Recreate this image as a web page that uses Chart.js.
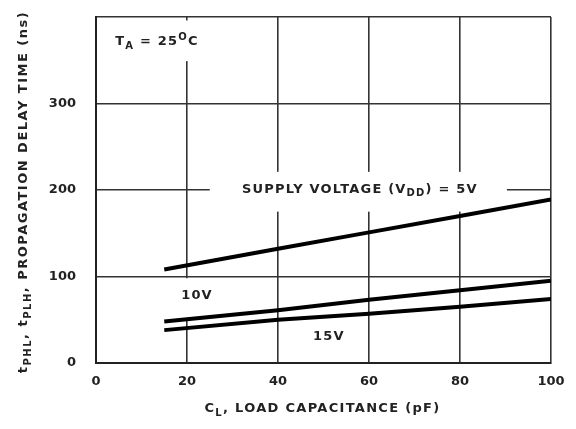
<!DOCTYPE html>
<html>
<head>
<meta charset="utf-8">
<script src="https://cdn.jsdelivr.net/npm/chart.js@4"></script>
<style>
  html, body { margin: 0; padding: 0; background: #fff; }
  #wrap { width: 576px; height: 429px; }
</style>
</head>
<body>
<div id="wrap"><canvas id="delayChart"></canvas></div>
<script>
// load capacitance (pF) and delay (ns)
const capLoad = [15, 40, 60, 80, 100];
const delay5V = [108, 132, 151, 170, 189];
const delay10V = [48, 61, 73, 84, 95];
const delay15V = [38, 50, 57, 65, 74];

const xTicks = [0, 20, 40, 60, 80, 100];
const yTicks = [0, 100, 200, 300];

const FAMILY = '"DejaVu Sans", Verdana, sans-serif';
const FONT = 'bold 13px ' + FAMILY;
const SUBFONT = 'bold 10px ' + FAMILY;

function toPoints(ys) {
    return capLoad.map((c, i) => ({ x: c, y: ys[i] }));
}

// draw text made of pieces, some sub/superscript; centred on x
function richWidth(ctx, parts) {
    let w = 0;
    parts.forEach(p => {
        ctx.font = p.s ? SUBFONT : FONT;
        w += ctx.measureText(p.t).width;
    });
    return w;
}
function drawRich(ctx, parts, cx, cy, spacing) {
    ctx.textBaseline = 'middle';
    ctx.textAlign = 'left';
    ctx.letterSpacing = (spacing || 1.2) + 'px';
    let x = cx - richWidth(ctx, parts) / 2;
    parts.forEach(p => {
        ctx.font = p.s ? SUBFONT : FONT;
        let dy = 0;
        if (p.s === 'sub') dy = 4;
        if (p.s === 'sup') dy = -5;
        ctx.fillText(p.t, x, cy + dy);
        x += ctx.measureText(p.t).width;
    });
    ctx.letterSpacing = '0px';
}

const notes = {
    id: 'notes',
    beforeDatasetsDraw(chart) {
        const ctx = chart.ctx;
        const xs = chart.scales.x, ys = chart.scales.y;
        const px = v => xs.getPixelForValue(v);
        const py = v => ys.getPixelForValue(v);
        ctx.save();
        // white gaps in the grid behind the labels
        ctx.fillStyle = '#fff';
        ctx.fillRect(px(2), py(396), px(25) - px(2), py(349) - py(396));
        ctx.fillRect(px(25), py(221), px(90.3) - px(25), py(175) - py(221));
        ctx.fillRect(px(18), py(98), px(26.5) - px(18), py(52) - py(98));

        ctx.fillStyle = '#222';
        drawRich(ctx, [{ t: 'T' }, { t: 'A', s: 'sub' }, { t: ' = 25' }, { t: 'O', s: 'sup' }, { t: 'C' }],
            px(13.4), py(371));
        drawRich(ctx, [{ t: 'SUPPLY VOLTAGE (V' }, { t: 'DD', s: 'sub' }, { t: ') = 5V' }],
            px(58), py(201));
        drawRich(ctx, [{ t: '10V' }], px(22.2), py(77.5));
        drawRich(ctx, [{ t: '15V' }], px(51.2), py(30));

        // axis titles
        const area = chart.chartArea;
        drawRich(ctx, [{ t: 'C' }, { t: 'L', s: 'sub' }, { t: ', LOAD CAPACITANCE (pF)' }],
            (area.left + area.right) / 2 - 1, 409, 1.3);
        ctx.translate(24, 192);
        ctx.rotate(-Math.PI / 2);
        drawRich(ctx, [{ t: 't' }, { t: 'PHL', s: 'sub' }, { t: ', t' }, { t: 'PLH', s: 'sub' },
            { t: ', PROPAGATION DELAY TIME (ns)' }], 0, 0, 1.5);
        ctx.restore();
    }
};

function lineSet(ys) {
    return {
        data: toPoints(ys),
        borderColor: '#000',
        borderWidth: 4,
        pointRadius: 0,
        tension: 0,
        fill: false
    };
}

const ctx = document.getElementById('delayChart').getContext('2d');
const delayChart = new Chart(ctx, {
    type: 'line',
    data: {
        datasets: [lineSet(delay5V), lineSet(delay10V), lineSet(delay15V)]
    },
    options: {
        responsive: true,
        maintainAspectRatio: false,
        animation: false,
        layout: { padding: { left: 0, right: 25, top: 17, bottom: 0 } },
        plugins: {
            legend: { display: false },
            tooltip: { enabled: false }
        },
        scales: {
            x: {
                type: 'linear',
                min: 0,
                max: 100,
                afterBuildTicks: s => { s.ticks = xTicks.map(v => ({ value: v })); },
                afterFit: s => { s.height = 66; s.paddingLeft = 0; s.paddingRight = 0; },
                grid: { color: '#333', lineWidth: 1.6, drawTicks: false },
                border: { color: '#222', width: 2 },
                ticks: {
                    padding: 11,
                    color: '#222',
                    font: { family: FAMILY, size: 13, weight: 'bold' }
                }
            },
            y: {
                min: 0,
                max: 400,
                afterBuildTicks: s => { s.ticks = yTicks.concat([400]).map(v => ({ value: v })); },
                afterFit: s => { s.width = 96; s.paddingTop = 0; s.paddingBottom = 0; },
                grid: { color: '#333', lineWidth: 1.6, drawTicks: false },
                border: { color: '#222', width: 2 },
                ticks: {
                    padding: 20,
                    color: '#222',
                    font: { family: FAMILY, size: 13, weight: 'bold' },
                    callback: v => (yTicks.includes(v) ? String(v) : '')
                }
            }
        }
    },
    plugins: [notes]
});
</script>
</body>
</html>
